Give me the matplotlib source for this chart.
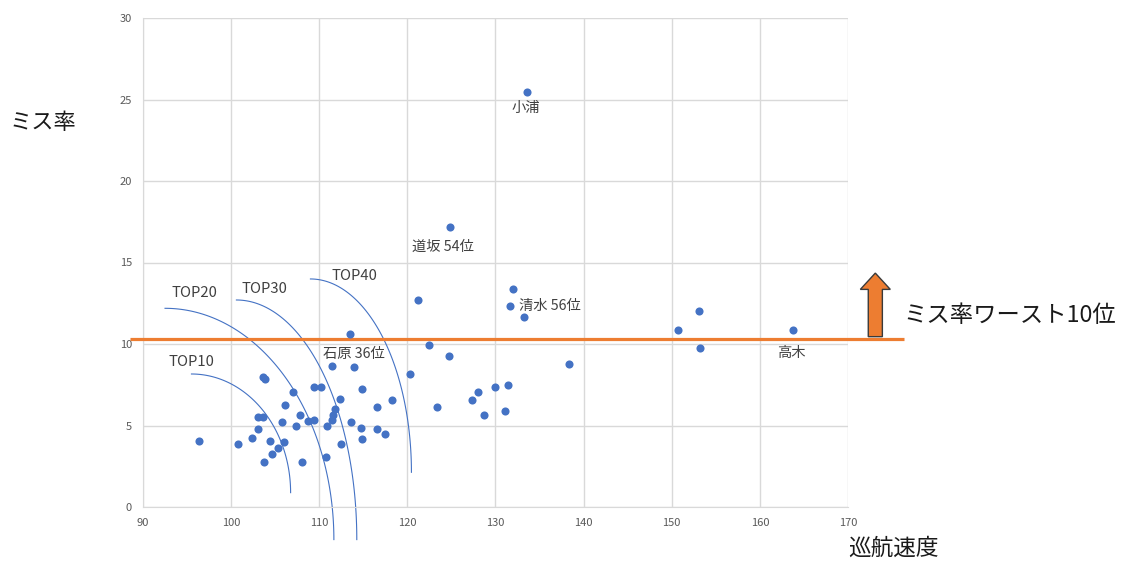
import numpy as np
import matplotlib
matplotlib.use("Agg")
import matplotlib.pyplot as plt
from matplotlib.patches import Polygon

plt.rcParams['font.family'] = ['Noto Sans CJK JP', 'DejaVu Sans']

# cruise speed (x) and miss rate (y) for each player
speed = [121.2, 113.5, 122.5, 111.4, 114.0, 120.3, 103.6, 103.8, 109.4, 110.2,
         114.8, 107.0, 123.4, 118.3, 112.3, 116.6, 106.1, 103.0, 103.6, 107.8,
         111.8, 111.6, 111.5, 108.7, 109.4, 105.8, 113.6, 107.4, 110.9, 114.7,
         116.6, 103.0, 117.5, 96.3, 100.8, 102.4, 104.4, 106.0, 105.3, 104.6,
         103.7, 108.0, 110.8, 112.5, 114.9,
         124.8, 132.0, 131.7, 133.2, 124.7, 138.3, 128.0, 130.0, 131.4, 127.3,
         128.7, 131.1, 133.6, 150.7, 153.1, 153.2, 163.8]
miss = [12.7, 10.6, 9.95, 8.65, 8.57, 8.16, 7.95, 7.83, 7.34, 7.34,
        7.26, 7.06, 6.15, 6.56, 6.65, 6.15, 6.26, 5.54, 5.54, 5.64,
        5.99, 5.64, 5.34, 5.26, 5.34, 5.24, 5.24, 4.97, 4.97, 4.87,
        4.77, 4.77, 4.46, 4.05, 3.87, 4.25, 4.05, 3.97, 3.64, 3.25,
        2.76, 2.76, 3.05, 3.87, 4.15,
        17.16, 13.35, 12.33, 11.66, 9.26, 8.75, 7.06, 7.36, 7.46, 6.56,
        5.66, 5.87, 25.44, 10.86, 12.04, 9.75, 10.86]

# named players
name_labels = ["小浦", "道坂 54位", "清水 56位", "石原 36位", "高木"]
name_pos = [(133.4, 24.45), (120.5, 15.95), (132.7, 12.35), (110.4, 9.4), (163.6, 9.45)]
name_ha = ["center", "left", "left", "left", "center"]

# worst-10 threshold for miss rate
worst10_threshold = 10.33

# ranking boundary arcs: (label, start point, end point, label position)
arc_labels = ["TOP10", "TOP20", "TOP30", "TOP40"]
arc_start = [(95.5, 8.16), (92.5, 12.19), (100.6, 12.7), (109.0, 13.99)]
arc_end = [(106.75, 0.88), (111.66, -2.0), (114.26, -2.0), (120.46, 2.13)]
arc_label_pos = [(95.5, 8.9), (95.8, 13.15), (103.75, 13.35), (113.95, 14.15)]

x_ticks = [90, 100, 110, 120, 130, 140, 150, 160, 170]
y_ticks = [0, 5, 10, 15, 20, 25, 30]

blue = "#4472C4"
orange = "#ED7D31"
grid_c = "#D9D9D9"
tick_c = "#595959"
text_c = "#404040"

fig = plt.figure(figsize=(11.22, 5.61), dpi=100)
ax = fig.add_axes([143 / 1122, 1 - 507 / 561, (848 - 143) / 1122, (507 - 18) / 561])

ax.set_xlim(90, 170)
ax.set_ylim(0, 30)
ax.set_xticks(x_ticks)
ax.set_yticks(y_ticks)
ax.grid(True, color=grid_c, linewidth=1.0)
ax.set_axisbelow(True)
for side in ["top", "right"]:
    ax.spines[side].set_visible(False)
for side in ["left", "bottom"]:
    ax.spines[side].set_color(grid_c)
ax.tick_params(length=0, labelsize=8, labelcolor=tick_c, pad=8)

# arcs
for (x0, y0), (x1, y1) in zip(arc_start, arc_end):
    cx, cy = x0, y1
    rx, ry = x1 - x0, y0 - y1
    t = np.linspace(0, np.pi / 2, 100)
    ax.plot(cx + rx * np.sin(t), cy + ry * np.cos(t), color=blue, lw=0.8,
            clip_on=False, zorder=2)
for lab, (lx, ly) in zip(arc_labels, arc_label_pos):
    ax.text(lx, ly, lab, fontsize=10.7, color=text_c, ha="center", va="center")

# threshold line
ax.plot([88.5, 176.4], [worst10_threshold, worst10_threshold], color=orange,
        lw=2.3, clip_on=False, zorder=3, solid_capstyle="butt")

# scatter
ax.scatter(speed, miss, s=34, color=blue, zorder=4, linewidths=0)

for lab, (lx, ly), ha in zip(name_labels, name_pos, name_ha):
    ax.text(lx, ly, lab, fontsize=10.3, color=text_c, ha=ha, va="center")

# upward arrow marking the worst-10 zone
ax_x, body_w, head_w = 173.1, 0.8, 1.7
base_y, neck_y, tip_y = 10.45, 13.35, 14.35
arrow = Polygon([(ax_x - body_w, base_y), (ax_x + body_w, base_y),
                 (ax_x + body_w, neck_y), (ax_x + head_w, neck_y),
                 (ax_x, tip_y), (ax_x - head_w, neck_y),
                 (ax_x - body_w, neck_y)], closed=True,
                facecolor=orange, edgecolor="#3a3a3a", lw=1.0,
                clip_on=False, zorder=5)
ax.add_patch(arrow)

fig.text(903 / 1122, 1 - 316 / 561, "ミス率ワースト10位", fontsize=16.8,
         color="#1a1a1a", ha="left", va="center")
fig.text(10 / 1122, 1 - 122 / 561, "ミス率", fontsize=16, color="#1a1a1a",
         ha="left", va="center")
fig.text(848 / 1122, 1 - 548 / 561, "巡航速度", fontsize=16.3, color="#1a1a1a",
         ha="left", va="center")

fig.savefig("out.png", dpi=100, facecolor="white")
